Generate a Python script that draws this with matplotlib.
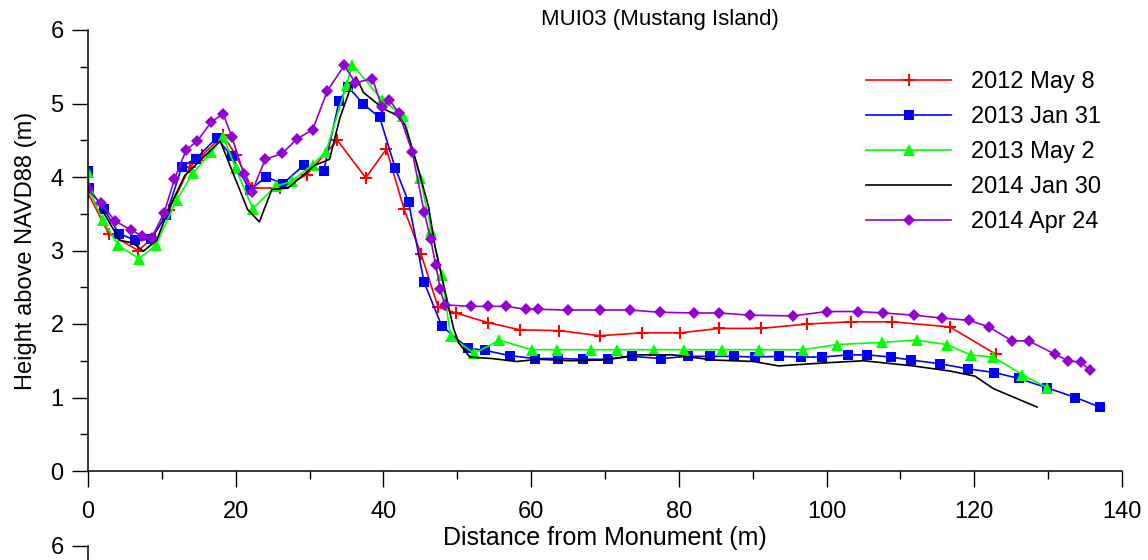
import matplotlib
matplotlib.use('Agg')
from matplotlib import pyplot as plt
from matplotlib.ticker import MultipleLocator

plt.rcParams['font.family'] = ['Liberation Sans', 'DejaVu Sans']

# 2012 May 8
x_may12 = [0, 2.8, 6.8, 8.5, 11.0, 13.8, 15.5, 18.3, 20.0, 22.2, 26.0, 29.6, 33.75, 37.6,
           40.4, 42.8, 45.1, 47.4, 49.8, 54.1, 58.5, 63.8, 69.3, 75.0, 80.2, 85.5, 91.1,
           97.4, 103.3, 108.9, 116.7, 122.9]
y_may12 = [3.78, 3.23, 3.0, 3.15, 3.55, 4.14, 4.3, 4.57, 4.3, 3.85, 3.85, 4.03, 4.5, 3.99,
           4.38, 3.56, 2.95, 2.23, 2.15, 2.02, 1.92, 1.91, 1.84, 1.88, 1.88, 1.94, 1.94,
           2.0, 2.03, 2.03, 1.96, 1.59]

# 2013 Jan 31
x_jan13 = [0, 0.1, 2.1, 4.2, 6.4, 8.5, 10.6, 12.7, 14.6, 17.4, 19.5, 21.9, 24.1, 26.4,
           29.2, 31.9, 34.0, 35.2, 37.3, 39.5, 41.6, 43.4, 45.5, 47.9, 51.5, 53.8, 57.1,
           60.5, 63.7, 67.0, 70.4, 73.7, 77.6, 81.2, 84.2, 87.4, 90.3, 93.6, 96.5, 99.4,
           102.9, 105.5, 108.7, 111.4, 115.3, 119.1, 122.7, 126.0, 129.9, 133.7, 137.0]
y_jan13 = [4.08, 3.85, 3.57, 3.23, 3.14, 3.15, 3.48, 4.14, 4.25, 4.53, 4.28, 3.82, 4.0, 3.91,
           4.16, 4.08, 5.03, 5.23, 4.99, 4.81, 4.12, 3.66, 2.57, 1.97, 1.67, 1.64, 1.57,
           1.53, 1.53, 1.52, 1.52, 1.56, 1.53, 1.56, 1.56, 1.56, 1.55, 1.56, 1.55, 1.55,
           1.58, 1.58, 1.55, 1.51, 1.46, 1.39, 1.34, 1.26, 1.13, 1.0, 0.87]

# 2013 May 2
x_may13 = [0, 0.1, 2.0, 4.1, 6.9, 9.2, 12.0, 14.2, 16.7, 18.3, 20.0, 22.3, 25.5, 27.6,
           30.4, 32.2, 35.0, 35.8, 39.8, 42.7, 45.0, 46.5, 47.9, 49.1, 52.3, 55.7, 60.1,
           63.5, 68.1, 71.6, 76.7, 80.7, 85.9, 90.9, 96.8, 101.4, 107.5, 112.2, 116.3,
           119.5, 122.6, 126.5, 129.9]
y_may13 = [4.07, 3.84, 3.41, 3.07, 2.89, 3.07, 3.69, 4.05, 4.34, 4.55, 4.12, 3.57, 3.88, 3.94,
           4.17, 4.34, 5.25, 5.53, 5.05, 4.83, 3.98, 3.26, 2.67, 1.83, 1.6, 1.78, 1.65,
           1.65, 1.65, 1.65, 1.65, 1.65, 1.65, 1.65, 1.65, 1.72, 1.75, 1.78, 1.72,
           1.58, 1.55, 1.31, 1.13]

# 2014 Jan 30
x_jan14 = [1.8, 4.3, 6.1, 7.5, 9.3, 11.1, 13.1, 17.9, 21.6, 23.2, 24.9, 27.1, 30.7, 32.7,
           34.1, 35.6, 36.3, 37.3, 40.0, 41.8, 42.9, 44.5, 46.1, 47.0, 48.1, 49.5, 50.2,
           51.7, 54.7, 58.0, 61.0, 65.3, 69.8, 74.3, 79.2, 84.7, 90.1, 93.5, 99.6, 105.0,
           111.7, 116.7, 120.1, 122.6, 128.5]
y_jan14 = [3.57, 3.14, 3.1, 2.99, 3.14, 3.6, 4.02, 4.49, 3.56, 3.39, 3.83, 3.85, 4.16, 4.24,
           4.8, 5.23, 5.36, 5.15, 4.93, 4.84, 4.71, 4.19, 3.6, 3.05, 2.55, 1.94, 1.74,
           1.55, 1.53, 1.49, 1.52, 1.50, 1.51, 1.58, 1.58, 1.51, 1.49, 1.43, 1.47, 1.5,
           1.43, 1.36, 1.29, 1.12, 0.87]

# 2014 Apr 24
x_apr14 = [0, 1.7, 3.7, 5.8, 7.3, 8.6, 10.3, 11.7, 13.3, 14.8, 16.7, 18.3, 19.5, 21.1, 22.2,
           24.0, 26.3, 28.3, 30.4, 32.4, 34.7, 36.2, 38.5, 39.8, 40.8, 42.1, 43.9, 45.5,
           46.4, 47.1, 47.7, 48.3, 51.8, 54.2, 56.6, 59.3, 60.9, 65.0, 69.3, 73.4, 77.4,
           82.0, 85.5, 89.6, 95.4, 100.1, 104.2, 107.7, 111.9, 115.6, 119.3, 122.0, 125.1,
           127.4, 130.9, 132.7, 134.4, 135.7]
y_apr14 = [3.83, 3.64, 3.40, 3.28, 3.2, 3.17, 3.51, 3.97, 4.37, 4.49, 4.75, 4.86, 4.54, 4.04, 3.8,
           4.24, 4.32, 4.52, 4.64, 5.17, 5.52, 5.28, 5.34, 4.95, 5.05, 4.87, 4.34, 3.53,
           3.15, 2.8, 2.47, 2.26, 2.24, 2.24, 2.24, 2.2, 2.2, 2.19, 2.19, 2.19, 2.16,
           2.15, 2.15, 2.12, 2.11, 2.17, 2.17, 2.15, 2.12, 2.08, 2.05, 1.96, 1.77,
           1.77, 1.59, 1.5, 1.48, 1.37]

fs = 17

fig = plt.figure(figsize=(11.48, 5.6), dpi=100)
ax = fig.add_axes([88/1148, 1 - 471/560, (1122 - 88)/1148, (471 - 30)/560])

lw = 1.2
ax.plot(x_may12, y_may12, color='#ff0000', lw=lw, marker='+', ms=9, mew=1.5, label='2012 May 8')
ax.plot(x_jan13, y_jan13, color='#0000ff', lw=lw, marker='s', ms=7, mew=0, label='2013 Jan 31')
ax.plot(x_may13, y_may13, color='#00ff00', lw=lw, marker='^', ms=8, mew=0, label='2013 May 2')
ax.plot(x_jan14, y_jan14, color='#000000', lw=lw, label='2014 Jan 30')
ax.plot(x_apr14, y_apr14, color='#9400d3', lw=lw, marker='D', ms=6.5, mew=0, label='2014 Apr 24')

ax.set_xlim(0, 140)
ax.set_ylim(0, 6)
ax.xaxis.set_major_locator(MultipleLocator(20))
ax.xaxis.set_minor_locator(MultipleLocator(10))
ax.yaxis.set_major_locator(MultipleLocator(1))
ax.yaxis.set_minor_locator(MultipleLocator(0.5))
for s in ['top', 'right']:
    ax.spines[s].set_visible(False)
for s in ['left', 'bottom']:
    ax.spines[s].set_linewidth(1.1)
ax.tick_params(which='major', direction='out', length=11.5, width=1.0, labelsize=fs)
ax.tick_params(axis='x', which='major', pad=10)
ax.tick_params(axis='y', which='major', pad=6)
ax.tick_params(which='minor', direction='out', length=5.8, width=1.0)
ax.set_xlabel('Distance from Monument (m)', fontsize=18, labelpad=2)
ax.set_ylabel('Height above NAVD88 (m)', fontsize=fs, labelpad=10)

fig.text(660/1148, 1 - 20/560, 'MUI03 (Mustang Island)', fontsize=16, ha='center', va='center')

ax.legend(loc='upper left', bbox_to_anchor=(866/1148, 1 - 71/560), bbox_transform=fig.transFigure,
          frameon=False, fontsize=fs, handlelength=3.6, handletextpad=0.85, labelspacing=0.55,
          borderpad=0, borderaxespad=0)

# top of the next panel peeking in at the bottom
ax2 = fig.add_axes([88/1148, -0.8, (1122 - 88)/1148, 0.8 + 1 - 546/560])
ax2.set_ylim(0, 6)
ax2.set_yticks([6])
ax2.set_xticks([])
for s in ['top', 'right', 'bottom']:
    ax2.spines[s].set_visible(False)
ax2.spines['left'].set_linewidth(1.1)
ax2.tick_params(axis='y', direction='out', length=11.5, width=1.0, labelsize=fs, pad=6)
ax2.patch.set_alpha(0)

fig.savefig('out.png', dpi=100)
